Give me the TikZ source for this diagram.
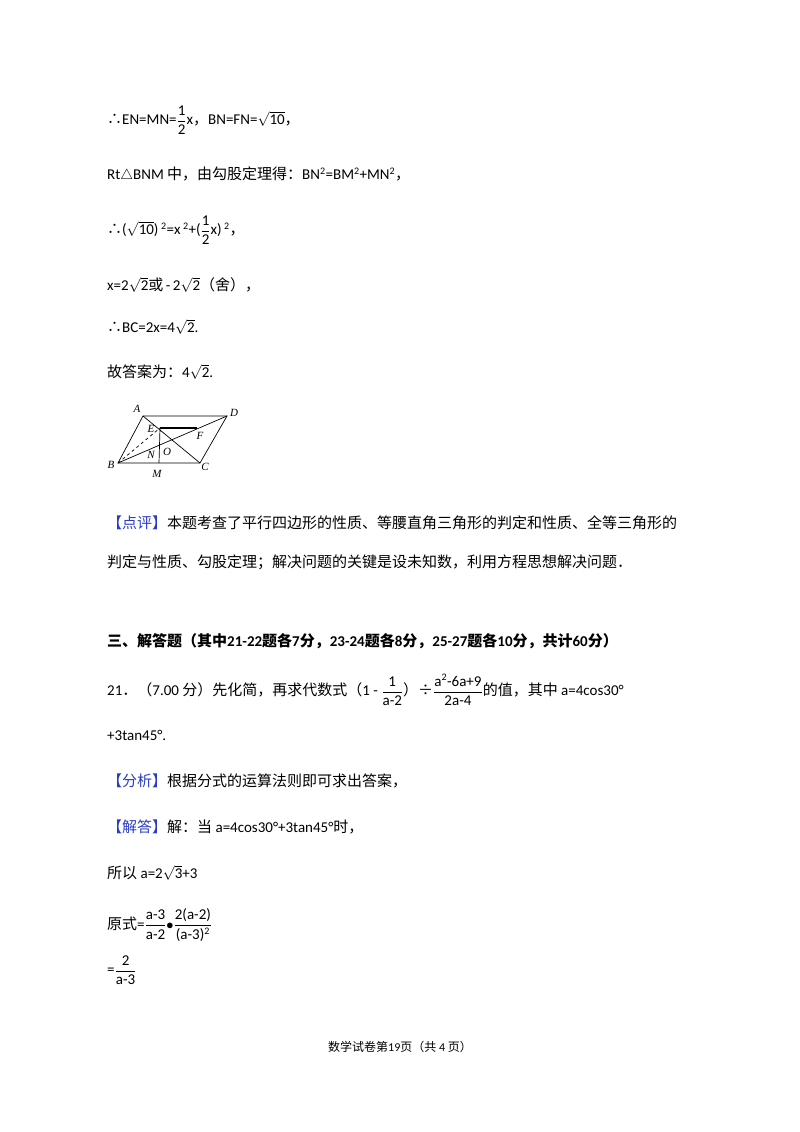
\documentclass[tikz,border=0pt]{standalone}
\usepackage{amssymb}
\usepackage{fontspec}
\setmainfont{Carlito}
\newfontfamily\cjk{Noto Sans CJK SC}
\newfontfamily\serifit{Liberation Serif}
\definecolor{hl}{RGB}{40,60,200}
\newcommand\fr[2]{$\displaystyle\frac{\hbox{#1}}{\hbox{#2}}$}
\newcommand\rt[1]{$\sqrt{\hbox{#1}}$}
\newcommand\tf{{\cjk ∴}}
\newcommand\sq{$^{\hbox{\fontsize{10}{10}\selectfont 2}}$}
\begin{document}
\begin{tikzpicture}[x=1pt,y=-1pt,
 t/.style={anchor=west,inner sep=0,font=\fontsize{15}{18}\selectfont},
 lbl/.style={inner sep=0,font=\fontsize{11}{12}\selectfont\serifit\itshape},
 ln/.style={line width=0.7pt}]
\useasboundingbox[fill=white] (0,0) rectangle (800,1132);
\node[t] (l1) at (107,120) {\tf EN=MN=\fr{1}{2}x{\cjk ，}BN=FN=\rt{10}{\cjk ，}};
\node[t] (l2) at (107,175) {Rt$\triangle$BNM {\cjk 中，由勾股定理得：}BN\sq=BM\sq+MN\sq{\cjk ，}};
\node[t] (l3) at (107,230) {\tf(\rt{10})\,\sq=x\,\sq+(\fr{1}{2}x)\,\sq{\cjk ，}};
\node[t] (l4) at (107,285) {x=2\rt{2}{\cjk 或}\,-\,2\rt{2}{\cjk （舍），}};
\node[t] (l5) at (107,327) {\tf BC=2x=4\rt{2}.};
\node[t] (l6) at (107,372) {{\cjk 故答案为：}4\rt{2}.};
% figure
\coordinate (A) at (143,416); \coordinate (D) at (227,416);
\coordinate (B) at (118,463); \coordinate (C) at (200,463);
\coordinate (E) at (160,428); \coordinate (F) at (197,428);
\coordinate (M) at (159,463); \coordinate (N) at (159,450);
\draw[ln] (A)--(D)--(C)--(B)--cycle;
\draw[ln] (A)--(C) (B)--(D) (E)--(M);
\draw[line width=1.2pt] (E)--(F);
\draw[ln,dashed] (B)--(E);
\node[lbl] at (137,409) {A}; \node[lbl] at (234,413) {D};
\node[lbl] at (111,465) {B}; \node[lbl] at (205,467) {C};
\node[lbl] at (151,429) {E}; \node[lbl] at (200,436) {F};
\node[lbl] at (151,455) {N}; \node[lbl] at (167,452) {O};
\node[lbl] at (157,474) {M};
\node[t] (p1) at (107,523) {{\cjk\color{hl}【点评】}{\cjk 本题考查了平行四边形的性质、等腰直角三角形的判定和性质、全等三角形的}};
\node[t] (p2) at (107,562) {{\cjk 判定与性质、勾股定理；解决问题的关键是设未知数，利用方程思想解决问题．}};
\node[t] (h) at (107,641) {\bfseries{\cjk 三、解答题（其中}21-22{\cjk 题各}7{\cjk 分，}23-24{\cjk 题各}8{\cjk 分，}25-27{\cjk 题各}10{\cjk 分，共计}60{\cjk 分）}};
\node[t] (q1) at (107,690) {21{\cjk ．（}7.00 {\cjk 分）先化简，再求代数式（}1 - \fr{1}{a-2}{\cjk ）÷}\fr{a\sq-6a+9}{2a-4}{\cjk 的值，其中} a=4cos30°};
\node[t] (q2) at (107,735) {+3tan45°.};
\node[t] (an) at (107,781) {{\cjk\color{hl}【分析】}{\cjk 根据分式的运算法则即可求出答案，}};
\node[t] (jd) at (107,827) {{\cjk\color{hl}【解答】}{\cjk 解：当} a=4cos30°+3tan45°{\cjk 时，}};
\node[t] (s1) at (107,873) {{\cjk 所以} a=2\rt{3}+3};
\node[t] (s2) at (107,925) {{\cjk 原式}=\fr{a-3}{a-2}$\bullet$\fr{2(a-2)}{(a-3)\sq}};
\node[t] (s3) at (107,970) {=\fr{2}{a-3}};
\node[inner sep=0,font=\fontsize{12}{14}\selectfont] (ft) at (400,1047) {{\cjk 数学试卷第}19{\cjk 页（共} 4 {\cjk 页）}};
\end{tikzpicture}
\end{document}
